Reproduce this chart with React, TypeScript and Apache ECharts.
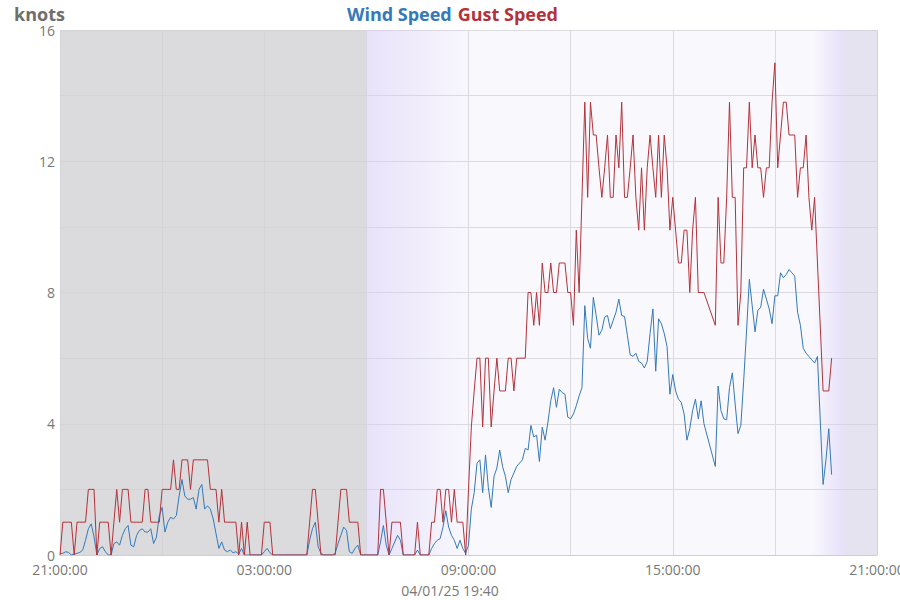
import React, { useEffect, useRef } from "react";
import * as echarts from "echarts";

const START_HOUR = 21;
const STEP_MIN = 5;
const DATE_LABEL = "04/01/25 19:40";
const Y_TICKS = [0, 4, 8, 12, 16];

const gust: (number | null)[] = [
  0, 1, 1, 1, 1, 0, 1, 1, 1, 1,
  2, 2, 2, 0, 1, 1, 1, 1, 0, 1,
  2, 1, 2, 2, 2, 1, 1, 1, 1, 1,
  2, 2, 1, 1, 1, 1, 2, 2, 2, 2,
  2.9, 2, 2, 2.9, 2.9, 2.9, 2, 2.9, 2.9, 2.9,
  2.9, 2.9, 2.9, 2, 2, 2, 1, 2, 1, 1,
  1, 1, 1, 0, 1, 0, 1, 0, 0, 0,
  0, 0, 1, 1, 1, 0, 0, 0, 0, 0,
  0, 0, 0, 0, 0, 0, 0, 0, 1, 2,
  2, 1, 0, 0, 0, 0, 0, 0, 1, 2,
  2, 2, 1, 1, 1, 1, 0, 0, 0, 0,
  0, 0, 0, 2, 2, 1, 0, 1, 1, 1,
  1, 0, 0, 0, 0, 0, 1, 0, 0, 0,
  0, 1, 1, 2, 2, 1, 2, 2, 1, 2,
  1, 1, 1, 0, 2, 3.9, 5, 6, 6, 3.9,
  6, 6, 3.9, 5, 6, 5, 5, 5, 6, 6,
  5, 6, 6, 6, 6, 8, 8, 7, 8, 7,
  8.9, 8, 8, 8.9, 8, 8, 8.9, 8.9, 8.9, 8,
  8, 7, 9.9, 8, 10.9, 13.8, 10.9, 13.8, 12.8, 12.8,
  11.8, 10.9, 11.8, 12.8, 10.9, 10.9, 12.8, 11.8, 13.8, 10.9,
  10.9, 11.8, 12.8, 10.9, 9.9, 11.8, 9.9, 11.8, 12.8, 11.8,
  10.9, 12.8, 10.9, 12.8, 11.8, 9.9, 10.9, 9.9, 8.9, 8.9,
  9.9, 9.9, 8, 9.9, 10.9, 8, 8, 8, null, null,
  null, 7, 10.9, 8.9, 8.9, 10.9, 13.8, 10.9, 10.9, 7,
  8, 11.8, 11.8, 13.8, 11.8, 12.8, 11.8, 11.8, 10.9, 11.8,
  11.8, 13.8, 15, 11.8, 12.8, 13.8, 13.8, 12.8, 12.8, 12.8,
  10.9, 11.8, 11.8, 12.8, 10.9, 9.9, 10.9, null, null, 5,
  5, 5, 6,
];

const wind: (number | null)[] = [
  0.05, 0.05, 0.1, 0.08, 0, 0.03, 0.05, 0.08, 0.15, 0.45,
  0.8, 0.95, 0.55, 0, 0.2, 0.25, 0.1, 0, 0, 0.35,
  0.4, 0.3, 0.6, 0.8, 0.9, 0.3, 0.25, 0.6, 0.75, 0.8,
  0.7, 0.7, 0.8, 0.35, 0.55, 1.2, 1.45, 0.7, 1.0, 1.15,
  1.1, 1.2, 1.8, 2.3, 1.8, 1.7, 1.7, 1.75, 1.4, 2.0,
  2.15, 1.4, 1.5, 1.4, 1.1, 0.65, 0.2, 0.4, 0.15, 0.1,
  0.15, 0.07, 0.1, 0.03, 0.2, 0, 0, 0, 0, 0,
  0, 0, 0.1, 0.2, 0.07, 0, 0, 0, 0, 0,
  0, 0, 0, 0, 0, 0, 0, 0, 0.45, 0.8,
  1.0, 0.25, 0.05, 0, 0, 0, 0, 0.05, 0.35, 0.6,
  0.85, 0.75, 0.1, 0.05, 0.2, 0.3, 0, 0, 0, 0,
  0, 0, 0, 0.4, 0.9, 0.3, 0, 0.2, 0.4, 0.6,
  0.45, 0, 0, 0, 0, 0, 0.15, 0, 0, 0,
  0, 0.2, 0.35, 0.45, 0.5, 0.85, 1.35, 0.85, 0.6, 0.45,
  0.2, 0.45, 0.2, 0.05, 0.3, 1.4, 1.9, 2.8, 2.9, 1.9,
  3.05, 2.05, 1.45, 2.4, 2.65, 3.2, 2.7, 2.4, 1.9, 2.3,
  2.5, 2.7, 2.8, 2.9, 3.25, 3.2, 3.95, 3.6, 3.65, 2.85,
  3.9, 3.5, 4.05, 4.7, 5.1, 4.5, 5.05, 4.95, 4.9, 4.2,
  4.15, 4.3, 4.55, 4.85, 5.1, 7.6, 6.6, 6.3, 7.85, 7.3,
  6.7, 6.85, 7.25, 7.3, 6.9, 7.15, 7.4, 7.8, 7.3, 7.27,
  6.7, 6.1, 6.05, 6.15, 5.9, 5.85, 5.7, 5.9, 6.75, 7.5,
  5.6, 7.2, 7.05, 6.75, 6.35, 4.9, 5.5, 5.0, 4.75, 4.65,
  4.3, 3.5, 3.85, 4.4, 4.75, 4.15, 4.7, 4.0, null, null,
  null, 2.7, 5.15, 4.4, 4.15, 4.12, 5.1, 5.55, 4.6, 3.7,
  3.95, 5.3, 6.8, 8.4, 7.6, 6.8, 7.45, 7.55, 8.1, 7.8,
  7.5, 7.05, 7.9, 7.9, 8.6, 8.45, 8.55, 8.7, 8.6, 8.5,
  7.4, 7.0, 6.3, 6.15, 6.05, 5.95, 5.85, 6.05, null, 2.15,
  2.9, 3.85, 2.45,
];

// background periods in hours from start (21:00)
const NIGHT_END = 9;
const DAWN_END = 12.1;
const DUSK_START = 22.1;
const DUSK_END = 23.05;
const AXIS_END = 24;

const BLUE = "#3579b9";
const RED = "#b3323a";
const FONT = '"Open Sans", "Noto Sans", sans-serif';

function toPairs(arr: (number | null)[]) {
  return arr.map((v, i) => [(i * STEP_MIN) / 60, v]);
}

function hourLabel(v: number) {
  const h = (START_HOUR + Math.round(v)) % 24;
  return (h < 10 ? "0" : "") + h + ":00:00";
}

export default function App() {
  const ref = useRef<HTMLDivElement>(null);
  useEffect(() => {
    if (!ref.current) return;
    const chart = echarts.init(ref.current, null, { renderer: "svg" });
    const grad = (a0: number, a1: number) => ({
      type: "linear",
      x: 0,
      y: 0,
      x2: 1,
      y2: 0,
      colorStops: [
        { offset: 0, color: `rgba(214,204,246,${a0})` },
        { offset: 1, color: `rgba(214,204,246,${a1})` },
      ],
    });
    chart.setOption({
      animation: false,
      backgroundColor: "#ffffff",
      textStyle: { fontFamily: FONT },
      title: {
        text: "knots",
        left: 9,
        top: 0,
        textStyle: { fontSize: 18, fontWeight: "bold", color: "#6e6e6e", fontFamily: FONT },
      },
      legend: {
        top: 0,
        left: "center",
        icon: "none",
        itemWidth: 0,
        itemGap: 1,
        selectedMode: false,
        textStyle: { fontSize: 18, fontWeight: "bold", fontFamily: FONT, padding: 0 },
        data: [
          { name: "Wind Speed", textStyle: { color: BLUE } },
          { name: "Gust Speed", textStyle: { color: RED } },
        ],
      },
      grid: { left: 60, right: 23, top: 30, bottom: 45, outerBoundsMode: "none" },
      xAxis: {
        type: "value",
        min: 0,
        max: AXIS_END,
        interval: 3,
        axisLine: { show: true, lineStyle: { color: "#cfcfcf" } },
        axisTick: { show: false },
        splitLine: { show: true, lineStyle: { color: "#d4d4d4", width: 1 } },
        axisLabel: {
          color: "#777",
          fontSize: 14,
          fontFamily: FONT,
          margin: 7,
          formatter: (v: number) => (Math.round(v) % 6 === 0 ? hourLabel(v) : ""),
        },
      },
      yAxis: {
        type: "value",
        min: 0,
        max: 16,
        interval: 2,
        axisLine: { show: false },
        axisTick: { show: false },
        splitLine: { show: true, lineStyle: { color: "#d4d4d4", width: 1 } },
        axisLabel: {
          color: "#777",
          fontSize: 14,
          fontFamily: FONT,
          margin: 5,
          formatter: (v: number) => (Y_TICKS.indexOf(v) >= 0 ? String(v) : ""),
        },
      },
      graphic: [
        {
          type: "text",
          left: "center",
          top: 583,
          style: { text: DATE_LABEL, fill: "#777", font: `14px ${FONT}` },
        },
      ],
      series: [
        {
          name: "Wind Speed",
          type: "line",
          data: toPairs(wind),
          showSymbol: false,
          connectNulls: true,
          lineStyle: { color: BLUE, width: 1 },
          itemStyle: { color: BLUE },
          z: 3,
          markArea: {
            silent: true,
            data: [
              [
                { xAxis: 0, itemStyle: { color: "rgba(236,232,250,0.3)" } },
                { xAxis: AXIS_END },
              ],
              [
                { xAxis: 0, itemStyle: { color: "rgba(210,210,212,0.78)" } },
                { xAxis: NIGHT_END },
              ],
              [
                { xAxis: NIGHT_END, itemStyle: { color: grad(0.5, 0) } },
                { xAxis: DAWN_END },
              ],
              [
                { xAxis: DUSK_START, itemStyle: { color: grad(0, 0.55) } },
                { xAxis: DUSK_END },
              ],
              [
                { xAxis: DUSK_END, itemStyle: { color: "rgba(210,206,226,0.5)" } },
                { xAxis: AXIS_END },
              ],
            ],
          },
        },
        {
          name: "Gust Speed",
          type: "line",
          data: toPairs(gust),
          showSymbol: false,
          connectNulls: true,
          lineStyle: { color: RED, width: 1 },
          itemStyle: { color: RED },
          z: 4,
        },
      ],
    });
    return () => chart.dispose();
  }, []);
  return (
    <div
      ref={ref}
      style={{ position: "absolute", left: 0, top: 0, width: 900, height: 600 }}
    />
  );
}
